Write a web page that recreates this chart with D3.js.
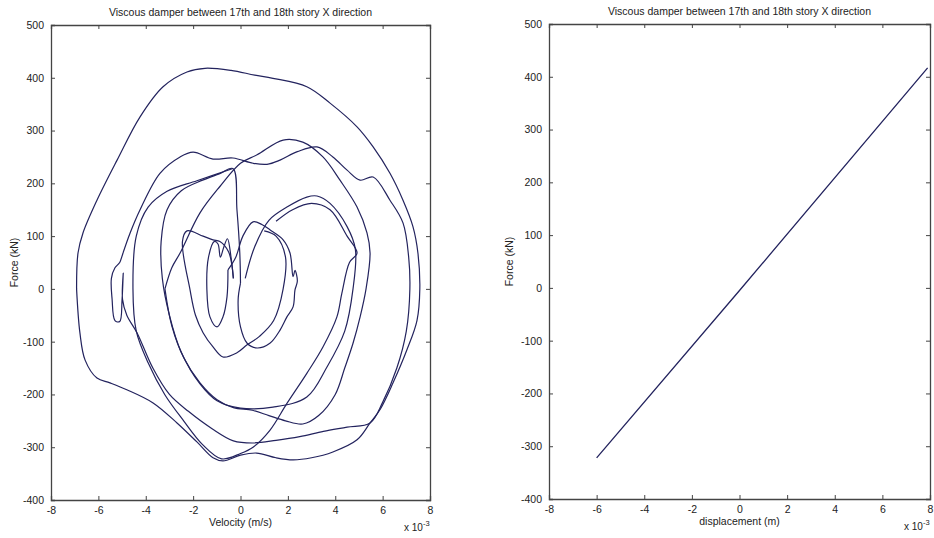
<!DOCTYPE html>
<html><head><meta charset="utf-8">
<script src="https://cdn.jsdelivr.net/npm/d3@7"></script>
<style>body{margin:0;background:#fff}svg{display:block}</style>
</head><body>
<svg id="c" width="934" height="538"></svg>
<script>
// ---------- DATA ----------
const titleText = "Viscous damper between 17th and 18th story X direction";
const xTicks = [-8,-6,-4,-2,0,2,4,6,8];
const yTicks = [-400,-300,-200,-100,0,100,200,300,400,500];
// velocity (x1e-3 m/s), force (kN) - hysteresis trajectory pieces
const loopOuter = [[-6.92,0],[-6.86,68],[-6.65,106],[-6.06,168],[-5.21,244],[-4.24,326],[-3.27,383],[-2.26,411],[-1.5,418],[-0.4,414],[0.6,405],[1.37,399],[2.8,383],[3.78,352],[4.92,307],[5.6,269],[6.31,219],[6.86,168],[7.28,118],[7.49,68],[7.57,0],[7.45,-60],[7.03,-115],[6.44,-178],[5.9,-228],[5.47,-254],[4.92,-286],[3.9,-309],[3.0,-320],[2.22,-324],[1.5,-320],[0.68,-311],[0.0,-315],[-0.74,-326],[-1.16,-320],[-1.84,-290],[-2.68,-254],[-3.69,-216],[-4.8,-191],[-5.51,-178],[-6.06,-169],[-6.56,-135],[-6.78,-83],[-6.92,0]];
const loopNotch = [[-4.96,68],[-4.66,106],[-4.24,150],[-3.4,219],[-2.55,250],[-2.0,259],[-1.16,246],[-0.32,248],[0.53,238],[1.12,236],[1.67,244],[2.4,260],[3.23,269],[3.9,250],[4.5,225],[5.05,206],[5.6,212],[6.31,168],[6.86,125],[7.1,60],[7.15,0],[7.0,-80],[6.6,-150],[6.0,-215],[5.47,-254],[4.5,-262],[3.5,-270],[2.5,-280],[1.5,-287],[0.5,-292],[-0.3,-288],[-1.2,-265],[-2.2,-232],[-3.0,-200],[-3.7,-150],[-4.37,-83],[-4.8,-50],[-4.98,-20],[-4.95,30],[-5.0,-20],[-5.1,-62],[-5.3,-60],[-5.42,-20],[-5.45,20],[-5.3,40],[-5.1,50],[-4.96,68]];
const loopPeak = [[-3.19,0],[-2.9,40],[-2.55,68],[-1.71,144],[-0.87,194],[0,238],[0.7,254],[1.8,282],[2.63,278],[3.48,250],[4.2,206],[4.92,155],[5.34,106],[5.47,68],[5.3,0],[5.05,-53],[4.75,-103],[4.4,-150],[4.0,-200],[3.3,-240],[2.63,-256],[1.9,-250],[1.2,-240],[0.5,-230],[-0.3,-225],[-0.99,-210],[-1.71,-178],[-2.4,-130],[-2.9,-70],[-3.19,0]];
const loopSpike = [[0.2,20],[0.6,80],[1.2,130],[1.96,155],[2.8,174],[3.23,176],[3.78,162],[4.5,118],[4.85,75],[4.75,0],[4.4,-80],[3.65,-148],[2.8,-205],[1.37,-224],[0.0,-226],[-0.99,-212],[-1.71,-180],[-2.5,-120],[-3.0,-50],[-3.3,20],[-3.35,90],[-3.1,150],[-2.5,186],[-1.6,206],[-0.9,218],[-0.32,228],[-0.15,150],[-0.03,68],[0.0,11]];
const loopRise = [[-0.32,228],[-1.84,205],[-3.1,185],[-3.9,155],[-4.4,100],[-4.54,0],[-4.4,-80],[-3.9,-140],[-3.2,-200],[-2.4,-250],[-1.6,-295],[-0.8,-322],[0.0,-312],[0.53,-300],[1.24,-268],[1.96,-217],[2.8,-160],[3.48,-110],[4.07,-53],[4.28,-8],[4.6,50],[4.92,68],[4.5,100],[3.78,150],[3.0,162],[2.2,150],[1.5,128]];
const loopInner = [[0,11],[-0.1,-21],[0,-72],[0.28,-103],[0.7,-112],[1.24,-103],[1.67,-78],[1.96,-53],[2.22,-34],[2.3,-2],[2.4,15],[2.3,35],[2.22,23],[2.09,68],[1.8,93],[1.24,112],[0.9,122],[0.53,127],[0.1,100],[-0.2,60],[-0.53,36]];
const loopSmall = [[-0.53,36],[-0.57,-15],[-0.74,-53],[-0.99,-72],[-1.29,-53],[-1.42,0],[-1.35,60],[-1.1,90],[-0.95,85],[-0.85,60],[-0.7,80],[-0.55,95],[-0.4,60],[-0.3,20]];
const loopLeftInner = [[-0.3,20],[-0.5,70],[-0.87,90],[-1.16,93],[-1.58,100],[-2.26,110],[-2.45,90],[-2.13,-2],[-1.9,-50],[-1.58,-83],[-1.16,-110],[-0.74,-129],[-0.15,-121],[0.28,-106],[0.8,-90],[1.4,-60],[1.8,0],[1.9,60],[1.5,100],[1.0,110]];
const loops = [loopOuter, loopNotch, loopPeak, loopSpike, loopRise, loopInner, loopSmall, loopLeftInner];
// displacement (x1e-3 m), force (kN)
const dispValues = [-6.0, 0, 7.9];
const forceValues = [-322, -5, 417];

// ---------- DRAW ----------
const svg = d3.select("#c");
const font = "Liberation Sans, Arial, sans-serif";
const lineColor = "#23235e";
const fmt = d => String(d);

function panel(x0, x1, y0, y1, xlabel, cx) {
  const g = svg.append("g");
  const xs = d3.scaleLinear().domain([-8,8]).range([x0,x1]);
  const ys = d3.scaleLinear().domain([-400,500]).range([y1,y0]);
  const tl = 4;
  g.append("g").attr("transform",`translate(0,${y1})`)
    .call(d3.axisBottom(xs).tickValues(xTicks).tickSize(-tl).tickPadding(7).tickFormat(fmt));
  g.append("g").attr("transform",`translate(0,${y0})`)
    .call(d3.axisTop(xs).tickValues(xTicks).tickSize(-tl).tickFormat(""));
  g.append("g").attr("transform",`translate(${x0},0)`)
    .call(d3.axisLeft(ys).tickValues(yTicks).tickSize(-tl).tickPadding(7).tickFormat(fmt));
  g.append("g").attr("transform",`translate(${x1},0)`)
    .call(d3.axisRight(ys).tickValues(yTicks).tickSize(-tl).tickFormat(""));
  g.selectAll(".domain").attr("stroke","#444").attr("stroke-width",1.3);
  g.selectAll(".tick line").attr("stroke","#444");
  g.selectAll(".tick text").attr("font-family",font).attr("font-size",10.5).attr("fill","#222");
  g.append("text").attr("x",(x0+x1)/2).attr("y",y0-9).attr("text-anchor","middle")
    .attr("font-family",font).attr("font-size",10.5).attr("fill","#222").text(titleText);
  g.append("text").attr("x",(x0+x1)/2).attr("y",y1+26).attr("text-anchor","middle")
    .attr("font-family",font).attr("font-size",10.5).attr("fill","#222").text(xlabel);
  g.append("text").attr("transform",`translate(${cx},${(y0+y1)/2}) rotate(-90)`).attr("text-anchor","middle")
    .attr("font-family",font).attr("font-size",10.5).attr("fill","#222").text("Force (kN)");
  const ex = g.append("text").attr("x",x1-26).attr("y",y1+31)
    .attr("font-family",font).attr("font-size",10).attr("fill","#222");
  ex.append("tspan").text("x 10");
  ex.append("tspan").attr("dy",-5).attr("font-size",7.5).text("-3");
  return {g, xs, ys};
}

const p1 = panel(51, 430, 25, 500, "Velocity (m/s)", 18);
const line1 = d3.line().x(d=>p1.xs(d[0])).y(d=>p1.ys(d[1])).curve(d3.curveCatmullRom.alpha(0.5));
loops.forEach(L => {
  p1.g.append("path").attr("d", line1(L)).attr("fill","none")
    .attr("stroke", lineColor).attr("stroke-width",1.2);
});

const p2 = panel(549, 930, 24, 499, "displacement (m)", 513);
const line2 = d3.line().x((d,i)=>p2.xs(dispValues[i])).y((d,i)=>p2.ys(forceValues[i]));
p2.g.append("path").attr("d", line2(dispValues)).attr("fill","none")
  .attr("stroke", lineColor).attr("stroke-width",1.3);
</script>
</body></html>
